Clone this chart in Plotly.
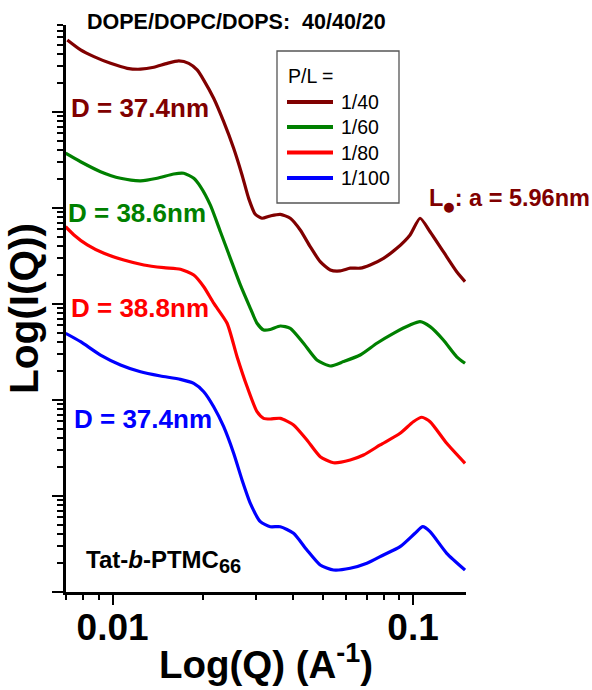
import math
import plotly.graph_objects as go

# ---------------- data ----------------
series_names = ["1/40", "1/60", "1/80", "1/100"]
series_colors = ["#800000", "#008000", "#FF0000", "#0000FF"]

q_40 = [0.00707, 0.00783, 0.00867, 0.00985, 0.01119, 0.01239, 0.01372, 0.01520, 0.01661,
        0.01793, 0.01912, 0.02011, 0.02170, 0.02343, 0.02529, 0.02697, 0.02837, 0.02986,
        0.03143, 0.03349, 0.03615, 0.03903, 0.04213, 0.04547, 0.04909, 0.05302, 0.05722,
        0.06177, 0.06668, 0.07198, 0.07969, 0.08828, 0.09772, 0.1055, 0.1139, 0.1261,
        0.1397, 0.1489]
I_40 = [5.62e4, 4.43e4, 3.77e4, 3.21e4, 2.85e4, 2.79e4, 2.92e4, 3.21e4, 3.40e4,
        3.21e4, 2.74e4, 2.15e4, 1.39e4, 7.93e3, 4.19e3, 2.21e3, 1.26e3, 859,
        782, 826, 859, 782, 590, 395, 276, 226, 221,
        236, 236, 255, 299, 380, 524, 782, 566, 351,
        217, 171]

q_60 = [0.00698, 0.00783, 0.00912, 0.01063, 0.01239, 0.01408, 0.01598, 0.01725, 0.01863,
        0.01961, 0.02116, 0.02285, 0.02466, 0.02662, 0.02874, 0.03025, 0.03182, 0.03349,
        0.03615, 0.03903, 0.04320, 0.04786, 0.05302, 0.05867, 0.06668, 0.07577, 0.08603,
        0.09772, 0.1055, 0.1139, 0.1261, 0.1397, 0.1489]
I_60 = [3.72e3, 3.03e3, 2.39e3, 2.04e3, 1.92e3, 2.04e3, 2.26e3, 2.30e3, 2.04e3,
        1.67e3, 1.07e3, 566, 299, 158, 90.2, 63.0, 53.6, 54.2,
        59.0, 55.8, 39.0, 26.1, 22.6, 25.1, 29.4, 39.0, 49.5,
        60.4, 65.5, 58.1, 42.2, 28.2, 24.1]

q_80 = [0.00698, 0.00744, 0.00824, 0.00936, 0.01090, 0.01271, 0.01481, 0.01682, 0.01863,
        0.02011, 0.02170, 0.02405, 0.02596, 0.02802, 0.03025, 0.03182, 0.03349, 0.03615,
        0.04002, 0.04434, 0.04909, 0.05436, 0.06177, 0.06839, 0.07771, 0.09054, 0.1002,
        0.1069, 0.1139, 0.1294, 0.1489]
I_80 = [638, 524, 412, 337, 287, 255, 239, 230, 200,
        151, 102, 63.0, 28.2, 13.8, 7.55, 6.44, 6.34, 6.44,
        5.50, 3.83, 2.57, 2.22, 2.37, 2.67, 3.40, 4.50, 5.94,
        6.61, 5.94, 3.54, 2.19]

q_100 = [0.00698, 0.00783, 0.00912, 0.01063, 0.01239, 0.01444, 0.01682, 0.01863, 0.02011,
         0.02170, 0.02343, 0.02529, 0.02697, 0.02874, 0.03103, 0.03349, 0.03615, 0.04002,
         0.04434, 0.04909, 0.05436, 0.06177, 0.07019, 0.07969, 0.09054, 0.1015, 0.1077,
         0.1139, 0.1294, 0.1489]
I_100 = [49.5, 40.5, 29.4, 23.2, 19.7, 17.8, 16.4, 14.9, 12.2,
         8.51, 5.27, 2.79, 1.47, 0.839, 0.540, 0.479, 0.479, 0.409,
         0.274, 0.191, 0.1695, 0.1766, 0.199, 0.243, 0.2965, 0.409, 0.479,
         0.4246, 0.253, 0.1695]

x_major_ticks = [0.01, 0.1]
x_major_labels = ["0.01", "0.1"]
x_minor_ticks = [0.007, 0.008, 0.009, 0.02, 0.03, 0.04, 0.05, 0.06, 0.07, 0.08, 0.09]
y_major_ticks = [0.1, 1, 10, 100, 1000, 10000]
y_minor_ticks = [m * 10.0 ** k for k in range(-1, 5) for m in range(2, 10) if m * 10.0 ** k < 8.5e4]

d_labels = ["D = 37.4nm", "D = 38.6nm", "D = 38.8nm", "D = 37.4nm"]

# ---------------- layout helpers ----------------
W, H = 592, 690
L, R, T, B = 66, 466, 25, 592
FONT = "Liberation Sans, Arial, Helvetica, sans-serif"


def fx(px):
    return (px - L) / (R - L)


def fy(py):
    return (B - py) / (B - T)


fig = go.Figure()
for q, I, c, n in zip([q_40, q_60, q_80, q_100], [I_40, I_60, I_80, I_100],
                      series_colors, series_names):
    fig.add_trace(go.Scatter(x=q, y=I, mode="lines", name=n, showlegend=False,
                             line=dict(color=c, width=3.2, shape="spline", smoothing=0.6)))

fig.update_xaxes(
    type="log", range=[math.log10(0.007), math.log10(0.15)], automargin=False,
    tickmode="array", tickvals=x_major_ticks, ticktext=x_major_labels,
    ticks="outside", ticklen=10, tickwidth=2, tickcolor="black",
    showline=True, linewidth=3, linecolor="black", showgrid=False, zeroline=False,
    tickfont=dict(family=FONT, size=37, color="black", weight="bold"),
    minor=dict(tickmode="array", tickvals=x_minor_ticks, ticks="outside", ticklen=5,
               tickwidth=2, tickcolor="black", showgrid=False),
    title=dict(text="Log(Q) (A<sup>-1</sup>)", standoff=4,
               font=dict(family=FONT, size=38.5, color="black", weight="bold")),
)
try:
    fig.update_xaxes(ticklabelstandoff=-9)
except Exception:
    pass

fig.update_yaxes(
    type="log", range=[-1, 4.906], automargin=False,
    tickmode="array", tickvals=y_major_ticks, showticklabels=False,
    ticks="outside", ticklen=11, tickwidth=2, tickcolor="black",
    showline=True, linewidth=3, linecolor="black", showgrid=False, zeroline=False,
    minor=dict(tickmode="array", tickvals=y_minor_ticks, ticks="outside", ticklen=6,
               tickwidth=2, tickcolor="black", showgrid=False),
    title=dict(text="Log(I(Q))", standoff=1,
               font=dict(family=FONT, size=40.5, color="black", weight="bold")),
)

annotations = []
shapes = []
# title
annotations.append(dict(text="DOPE/DOPC/DOPS:\u00a0\u00a040/40/20", xref="paper", yref="paper",
                        x=fx(236), y=fy(22), xanchor="center", yanchor="middle", showarrow=False,
                        font=dict(family=FONT, size=21.5, color="black", weight="bold")))
# D labels
d_pos = [(69, 108), (66, 213), (69, 308), (72, 419)]
for txt, c, (px, py) in zip(d_labels, series_colors, d_pos):
    annotations.append(dict(text=txt, xref="paper", yref="paper", x=fx(px), y=fy(py),
                            xanchor="left", yanchor="middle", showarrow=False,
                            font=dict(family=FONT, size=26, color=c, weight="bold")))
# L alpha label
annotations.append(dict(text="L<sub><span style='font-size:13px;font-family:DejaVu Sans'>\u25cf</span></sub>: a = 5.96nm",
                        xref="paper", yref="paper",
                        x=fx(427), y=fy(199), xanchor="left", yanchor="middle", showarrow=False,
                        font=dict(family=FONT, size=23.5, color="#800000", weight="bold")))
# sample label
annotations.append(dict(text="Tat-<i>b</i>-PTMC<sub><span style='font-size:20px'>66</span></sub>",
                        xref="paper", yref="paper",
                        x=fx(84), y=fy(561), xanchor="left", yanchor="middle", showarrow=False,
                        font=dict(family=FONT, size=24, color="black", weight="bold")))

# legend (box, swatches, text)
shapes.append(dict(type="rect", xref="paper", yref="paper", x0=fx(277), x1=fx(399),
                   y0=fy(203), y1=fy(51), line=dict(color="#555555", width=1.3),
                   fillcolor="white", layer="above"))
annotations.append(dict(text="P/L =", xref="paper", yref="paper", x=fx(286), y=fy(76),
                        xanchor="left", yanchor="middle", showarrow=False,
                        font=dict(family=FONT, size=19.5, color="black")))
leg_y = [102, 127, 152.5, 178]
for name, c, py in zip(series_names, series_colors, leg_y):
    shapes.append(dict(type="line", xref="paper", yref="paper", x0=fx(287), x1=fx(333),
                       y0=fy(py), y1=fy(py), line=dict(color=c, width=4), layer="above"))
    annotations.append(dict(text=name, xref="paper", yref="paper", x=fx(339), y=fy(py),
                            xanchor="left", yanchor="middle", showarrow=False,
                            font=dict(family=FONT, size=19.5, color="black")))

fig.update_layout(
    width=W, height=H,
    margin=dict(l=L, r=W - R, t=T, b=H - B, pad=0, autoexpand=False),
    paper_bgcolor="white", plot_bgcolor="white",
    font=dict(family=FONT, color="black"),
    showlegend=False,
    annotations=annotations,
    shapes=shapes,
)

fig.write_html("out.html", config={"displayModeBar": False},
               post_script="document.body.style.margin='0px';document.body.style.overflow='hidden';")
